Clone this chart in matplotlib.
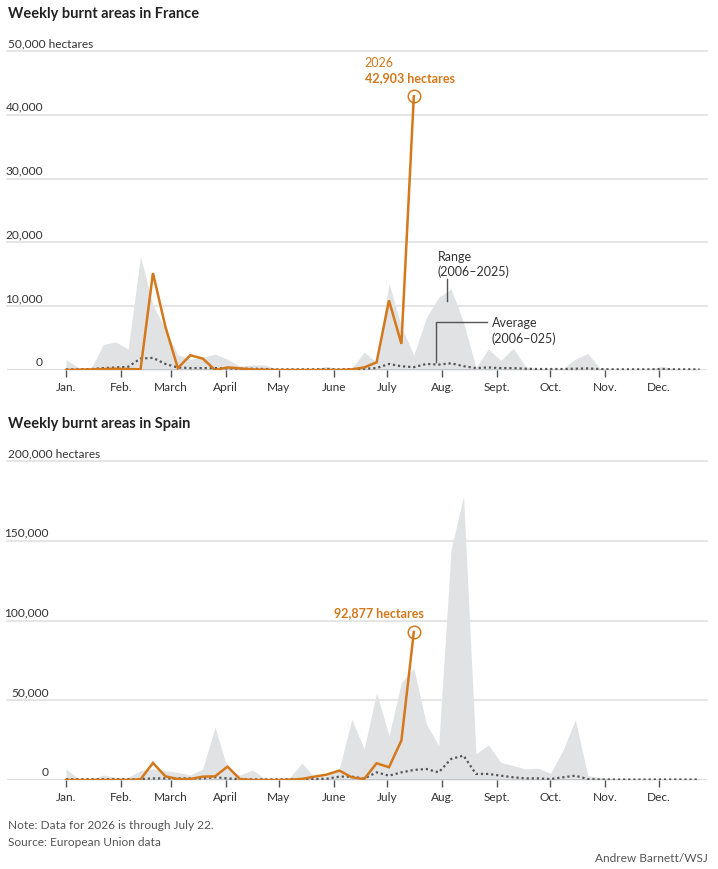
import numpy as np
import matplotlib
matplotlib.use("Agg")
import matplotlib.pyplot as plt

plt.rcParams['font.family'] = ['Lato', 'DejaVu Sans']

# weekly values, week 0 = first week of January
france_2026 = [0, 50, 100, 150, 200, 150, 100, 15200, 6800, 300, 2300, 1800, 0, 400, 250,
               100, 50, 0, 0, 0, 0, 0, 0, 100, 400, 1200, 10900, 4100, 42903]
france_max = [1600, 400, 150, 4000, 4400, 3300, 17800, 10200, 6400, 2400, 1700, 2000, 2500,
              1700, 600, 800, 800, 150, 100, 100, 200, 600, 150, 200, 2800, 1200, 13600,
              6800, 2300, 8200, 11400, 12700, 7500, 400, 3300, 1500, 3400, 500, 200, 150,
              200, 1700, 2600, 200, 100, 100, 100, 100, 600, 100, 100, 100]
france_avg = [100, 100, 150, 300, 400, 500, 1800, 1900, 950, 400, 300, 300, 300, 250, 200,
              200, 150, 100, 100, 100, 100, 150, 100, 150, 200, 300, 950, 580, 450, 950, 850,
              1050, 600, 300, 400, 300, 300, 200, 150, 150, 150, 200, 250, 150, 100, 100,
              100, 100, 150, 100, 100, 100]

spain_2026 = [0, 0, 0, 0, 0, 0, 400, 10700, 2300, 600, 600, 2100, 2300, 8400, 600, 0, 0,
              0, 200, 700, 2100, 3400, 5900, 1700, 600, 10500, 8000, 24800, 92877]
spain_max = [6900, 1000, 600, 3100, 1700, 1700, 5900, 7000, 5900, 4800, 3100, 6900, 33200,
             6900, 3100, 6300, 1000, 600, 1500, 10700, 1700, 2700, 6900, 38000, 19500, 54600,
             27900, 61100, 70000, 35300, 21600, 144500, 178000, 16400, 22000, 11100, 9000,
             6900, 7400, 4200, 18500, 37800, 2700, 1700, 700, 500, 400, 300, 300, 300, 300, 500]
spain_avg = [500, 500, 500, 500, 500, 500, 600, 1000, 1000, 1000, 1000, 1000, 1700, 1000,
             500, 400, 400, 400, 500, 500, 600, 800, 2100, 2100, 900, 4800, 2700, 4800, 6300,
             6900, 4800, 13200, 15300, 3800, 3800, 2700, 1700, 1000, 1000, 600, 1700, 2700,
             600, 300, 300, 300, 300, 300, 300, 300, 300, 300]

months = ["Jan.", "Feb.", "March", "April", "May", "June", "July", "Aug.", "Sept.", "Oct.",
          "Nov.", "Dec."]
month_start_day = [0, 31, 59, 90, 120, 151, 181, 212, 243, 273, 304, 334]

ORANGE = '#d4781c'
FILL = '#e1e2e4'
DARK = '#555555'
TXT = '#333333'
FS = 8.6


def draw_panel(ax, cur, rmax, ravg, ymax, step, label_x, unit_label):
    weeks = np.arange(len(rmax))
    ax.set_xlim(-4.75, 51.6)
    ax.set_ylim(0, ymax)
    for s in ax.spines.values():
        s.set_visible(False)

    for v in range(step, ymax + 1, step):
        ax.axhline(v, color='#e3e3e3', lw=1.3, zorder=0, clip_on=False)
        txt = f"{v:,}"
        if v == ymax:
            ax.annotate(txt + unit_label, xy=(0.0015, v), xycoords=('axes fraction', 'data'),
                        xytext=(0, 3), textcoords='offset pixels', ha='left', va='bottom',
                        fontsize=FS, color=TXT)
        else:
            ax.annotate(txt, xy=(label_x, v), xycoords=('axes fraction', 'data'),
                        xytext=(0, 3), textcoords='offset pixels', ha='right', va='bottom',
                        fontsize=FS, color=TXT)
    ax.annotate("0", xy=(label_x, 0), xycoords=('axes fraction', 'data'),
                xytext=(0, 3), textcoords='offset pixels', ha='right', va='bottom',
                fontsize=FS, color=TXT)

    ax.fill_between(weeks, 0, rmax, color=FILL, lw=0, zorder=1)
    ax.plot(weeks, ravg, color=DARK, lw=1.6, ls=(0, (1, 1.3)), zorder=2)
    ax.axhline(0, color=DARK, lw=1.0, zorder=3)
    cw = np.arange(len(cur))
    ax.plot(cw, cur, color=ORANGE, lw=1.8, zorder=4, solid_joinstyle='miter')
    ax.plot(cw[-1], cur[-1], 'o', ms=9, mfc='none', mec=ORANGE, mew=1.1, zorder=5)

    ax.set_yticks([])
    ax.set_xticks([d / 7 for d in month_start_day])
    ax.set_xticklabels(months, fontsize=FS, color=TXT)
    ax.tick_params(axis='x', length=5, width=1, color=DARK, pad=3)


fig = plt.figure(figsize=(7.18, 8.70), dpi=100)
ax1 = fig.add_axes([7 / 718, 1 - 371 / 870, 700 / 718, 319 / 870])
ax2 = fig.add_axes([7 / 718, 1 - 781 / 870, 700 / 718, 319 / 870])

draw_panel(ax1, france_2026, france_max, france_avg, 50000, 10000, 36 / 700, " hectares")
draw_panel(ax2, spain_2026, spain_max, spain_avg, 200000, 50000, 42 / 700, " hectares")

# France annotations
ax1.annotate("2026", xy=(28, france_2026[-1]), xytext=(-49, 34), textcoords='offset pixels',
             ha='left', va='center', fontsize=9, color=ORANGE)
ax1.annotate(f"{france_2026[-1]:,} hectares", xy=(28, france_2026[-1]), xytext=(-49, 19),
             textcoords='offset pixels', ha='left', va='center', fontsize=9,
             fontweight='bold', color=ORANGE)
ax1.text(29.93, 16690, "Range\n(2006–2025)", ha='left', va='center', fontsize=9,
         color=TXT, linespacing=1.3)
ax1.plot([30.63, 30.63], [10800, 14260], color=DARK, lw=1)
ax1.text(34.27, 6270, "Average\n(2006–025)", ha='left', va='center', fontsize=9,
         color=TXT, linespacing=1.3)
ax1.plot([33.85, 29.82, 29.82], [7570, 7570, 1300], color=DARK, lw=1)

# Spain annotation
ax2.annotate(f"{spain_2026[-1]:,} hectares", xy=(28, spain_2026[-1]), xytext=(-35, 20),
             textcoords='offset pixels', ha='center', va='center', fontsize=9,
             fontweight='bold', color=ORANGE)

fig.text(8 / 718, 1 - 14 / 870, "Weekly burnt areas in France", fontsize=10.5, fontweight='bold',
         color='#222222', ha='left', va='center')
fig.text(8 / 718, 1 - 424 / 870, "Weekly burnt areas in Spain", fontsize=10.5, fontweight='bold',
         color='#222222', ha='left', va='center')
fig.text(8 / 718, 1 - 826 / 870, "Note: Data for 2026 is through July 22.", fontsize=FS,
         color='#555555', ha='left', va='center')
fig.text(8 / 718, 1 - 843 / 870, "Source: European Union data", fontsize=FS,
         color='#555555', ha='left', va='center')
fig.text(708 / 718, 1 - 859 / 870, "Andrew Barnett/WSJ", fontsize=FS,
         color='#555555', ha='right', va='center')

fig.savefig("out.png", dpi=100)
